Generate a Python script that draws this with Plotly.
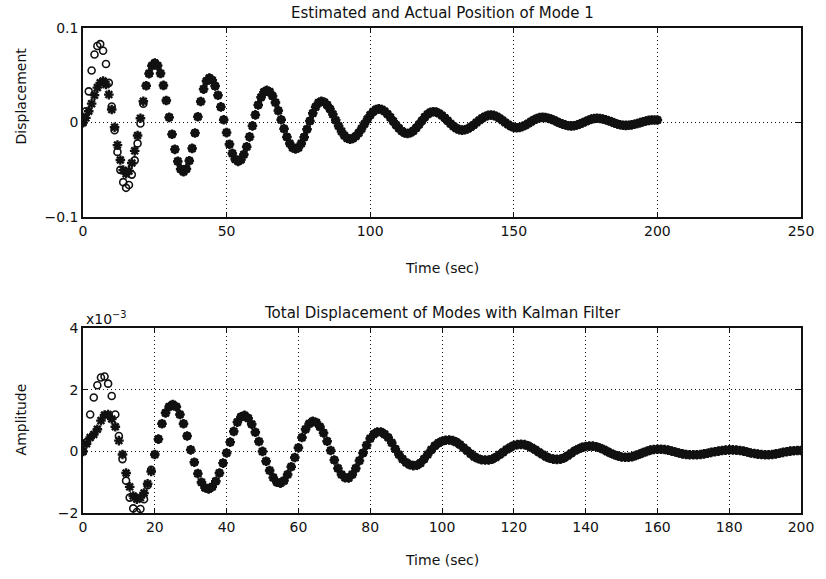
import plotly.graph_objects as go

# Sample times (s), one sample per second
time_s = list(range(201))

# Mode 1 actual position, in units of 1e-3
mode1_actual_milli = [
    0, 5, 12, 20, 29, 37, 42, 44,
    40.3, 29.6, 13.8, -5, -23.8, -39.6, -50.3, -54,
    -51.1, -42.8, -29.9, -13.6, 4.5, 22.6, 38.9, 51.8, 60.1, 63,
    60.2, 52.0, 39.3, 23.3, 5.5, -12.3, -28.3, -41.0, -49.2, -52,
    -49.0, -40.4, -27.3, -11.1, 6.1, 22.3, 35.4, 44.0, 47,
    44.8, 38.6, 28.9, 16.6, 3, -10.6, -22.9, -32.6, -38.8, -41,
    -39.2, -33.8, -25.6, -15.1, -3.5, 8.1, 18.6, 26.8, 32.2, 34,
    32.5, 28.1, 21.2, 12.6, 3, -6.6, -15.2, -22.1, -26.5, -28,
    -26.5, -22.1, -15.4, -7.1, 1.6, 9.9, 16.6, 21.0, 22.5,
    21.5, 18.7, 14.3, 8.7, 2.5, -3.7, -9.3, -13.7, -16.5, -17.5,
    -16.7, -14.4, -10.9, -6.4, -1.5, 3.4, 7.9, 11.4, 13.7, 14.5,
    13.9, 12.0, 9.1, 5.5, 1.5, -2.5, -6.1, -9.0, -10.9, -11.5,
    -10.8, -8.8, -5.8, -2.0, 2.0, 5.8, 8.8, 10.8, 11.5,
    11.0, 9.6, 7.5, 4.8, 1.8, -1.3, -4.0, -6.1, -7.5, -8,
    -7.6, -6.5, -4.7, -2.5, 0, 2.5, 4.7, 6.5, 7.6, 8,
    7.6, 6.4, 4.6, 2.4, 0.1, -2.1, -3.9, -5.1, -5.5,
    -5.2, -4.2, -2.8, -1.0, 1.0, 2.8, 4.2, 5.2, 5.5,
    5.3, 4.6, 3.6, 2.4, 1.0, -0.4, -1.6, -2.6, -3.3, -3.5,
    -3.3, -2.6, -1.5, -0.2, 1.2, 2.5, 3.6, 4.3, 4.5,
    4.3, 3.8, 3.0, 1.9, 0.8, -0.4, -1.5, -2.3, -2.8, -3,
    -2.9, -2.4, -1.8, -1.0, -0.1, 0.8, 1.6, 2.3, 2.7, 2.8, 2.7,
]

# Kalman estimate of mode 1 during the start-up transient (1e-3);
# afterwards the estimate sits on the actual position
mode1_est_start_milli = [
    0, 12, 33, 55, 72, 81, 83, 76, 62, 42, 17,
    -8, -31, -50, -63, -69, -66, -55, -40, -22, -1, 20,
]

# Total displacement of the modes, in units of 1e-3
total_actual_milli = [
    0, 0.25, 0.45, 0.55, 0.72, 1.0, 1.18, 1.2, 1.05, 0.8,
    0.35, -0.1, -0.7, -1.15, -1.45, -1.55, -1.5, -1.35, -1.05, -0.65,
    -0.1, 0.4, 0.9, 1.25, 1.45, 1.52, 1.45, 1.2, 0.9, 0.5,
    0.05, -0.35, -0.72, -1.0, -1.18, -1.22, -1.15, -0.97, -0.7, -0.38,
    -0.05, 0.3, 0.65, 0.95, 1.12, 1.17, 1.08, 0.88, 0.62, 0.32,
    0.0, -0.32, -0.62, -0.85, -1.0, -1.03, -0.95, -0.75, -0.5, -0.2,
    0.12, 0.45, 0.72, 0.9, 0.98, 0.94, 0.8, 0.6, 0.33, 0.03,
    -0.28, -0.55, -0.75, -0.85, -0.86, -0.75, -0.55, -0.3, -0.05, 0.2,
    0.42, 0.56, 0.63, 0.63, 0.56, 0.45, 0.28, 0.08, -0.1, -0.25,
    -0.36, -0.43, -0.46, -0.45, -0.38, -0.25, -0.1, 0.05, 0.18, 0.27,
    0.33, 0.36, 0.37, 0.35, 0.3, 0.22, 0.12, 0.02, -0.08, -0.17,
    -0.23, -0.27, -0.28, -0.28, -0.25, -0.19, -0.11, -0.03, 0.06, 0.13,
    0.19, 0.22, 0.23, 0.22, 0.18, 0.12, 0.05, -0.03, -0.1, -0.17,
    -0.22, -0.25, -0.26, -0.25, -0.21, -0.14, -0.06, 0.02, 0.08, 0.13,
    0.16, 0.17, 0.17, 0.15, 0.11, 0.06, 0.0, -0.06, -0.11, -0.15,
    -0.18, -0.19, -0.19, -0.17, -0.13, -0.09, -0.04, 0.0, 0.04, 0.06,
    0.07, 0.07, 0.06, 0.04, 0.01, -0.02, -0.05, -0.08, -0.1, -0.11,
    -0.11, -0.11, -0.1, -0.08, -0.06, -0.03, -0.01, 0.01, 0.03, 0.04,
    0.05, 0.05, 0.04, 0.03, 0.01, -0.02, -0.05, -0.07, -0.09, -0.1,
    -0.11, -0.11, -0.1, -0.08, -0.06, -0.03, -0.01, 0.01, 0.02, 0.03, 0.03,
]

# Filtered total displacement during the start-up transient (1e-3)
total_est_start_milli = [
    0, 0.3, 1.2, 1.75, 2.15, 2.4, 2.43, 2.2, 1.8, 1.2, 0.5,
    -0.25, -0.95, -1.5, -1.85, -1.97, -1.87, -1.55, -1.1, -0.6, -0.1,
]

# Axis ticks
top_x_ticks = [0, 50, 100, 150, 200, 250]
top_y_ticks = [-0.1, 0, 0.1]
top_y_ticktext = ["\u22120.1", "0", "0.1"]
bottom_x_ticks = [0, 20, 40, 60, 80, 100, 120, 140, 160, 180, 200]
bottom_y_ticks = [-2, 0, 2, 4]
bottom_y_ticktext = ["\u22122", "0", "2", "4"]

assert len(mode1_actual_milli) == len(time_s)
assert len(total_actual_milli) == len(time_s)

mode1_actual = [v * 1e-3 for v in mode1_actual_milli]
mode1_est = [v * 1e-3 for v in
             mode1_est_start_milli + mode1_actual_milli[len(mode1_est_start_milli):]]
total_actual = total_actual_milli
total_est = total_est_start_milli + total_actual_milli[len(total_est_start_milli):]

INK = "#111111"
FONT = "DejaVu Sans"

est_marker = dict(symbol="circle-open", size=7, color=INK, line=dict(width=1.6, color=INK))
act_marker = dict(symbol="asterisk-open", size=8, color=INK, line=dict(width=2.4, color=INK))

fig = go.Figure()
fig.add_trace(go.Scatter(x=time_s, y=mode1_est, mode="markers", marker=est_marker,
                         name="Estimated", xaxis="x", yaxis="y"))
fig.add_trace(go.Scatter(x=time_s, y=mode1_actual, mode="markers", marker=act_marker,
                         name="Actual", xaxis="x", yaxis="y"))
fig.add_trace(go.Scatter(x=time_s, y=total_est, mode="markers", marker=est_marker,
                         name="Estimated", xaxis="x2", yaxis="y2"))
fig.add_trace(go.Scatter(x=time_s, y=total_actual, mode="markers", marker=act_marker,
                         name="Actual", xaxis="x2", yaxis="y2"))

axis_style = dict(
    showline=True, linecolor=INK, linewidth=1.5, mirror="ticks",
    ticks="inside", ticklen=5, tickwidth=1, tickcolor=INK,
    showgrid=True, gridcolor=INK, gridwidth=1, griddash="1px,3px",
    zeroline=False, tickfont=dict(family=FONT, size=14, color=INK),
)

fig.update_layout(
    width=826, height=579,
    margin=dict(l=83, r=18, t=28, b=66),
    paper_bgcolor="white", plot_bgcolor="white",
    showlegend=False,
    font=dict(family=FONT, size=14, color=INK),
    xaxis=dict(domain=[0, 1], anchor="y", range=[0, 250], tickvals=top_x_ticks, **axis_style),
    yaxis=dict(domain=[0.610, 1], anchor="x", range=[-0.1, 0.1], tickvals=top_y_ticks,
               ticktext=top_y_ticktext, **axis_style),
    xaxis2=dict(domain=[0, 1], anchor="y2", range=[0, 200], tickvals=bottom_x_ticks, **axis_style),
    yaxis2=dict(domain=[0, 0.381], anchor="x2", range=[-2, 4], tickvals=bottom_y_ticks,
                ticktext=bottom_y_ticktext, **axis_style),
)

text_font = dict(family=FONT, size=14, color=INK)
title_font = dict(family=FONT, size=15, color=INK)
annotations = [
    dict(text="Estimated and Actual Position of Mode 1", x=0.5, y=1.031, xanchor="center",
         yanchor="middle", font=title_font),
    dict(text="Time (sec)", x=0.5, y=0.505, xanchor="center", yanchor="middle", font=text_font),
    dict(text="Displacement", x=-0.087, y=0.86, xanchor="center", yanchor="middle", textangle=-90,
         font=text_font),
    dict(text="Total Displacement of Modes with Kalman Filter", x=0.5, y=0.412, xanchor="center",
         yanchor="middle", font=title_font),
    dict(text="x10<sup>\u22123</sup>", x=0.002, y=0.402, xanchor="left", yanchor="middle",
         font=text_font),
    dict(text="Time (sec)", x=0.5, y=-0.097, xanchor="center", yanchor="middle", font=text_font),
    dict(text="Amplitude", x=-0.087, y=0.192, xanchor="center", yanchor="middle", textangle=-90,
         font=text_font),
]
for a in annotations:
    fig.add_annotation(xref="paper", yref="paper", showarrow=False, **a)

fig.write_html("out.html")
